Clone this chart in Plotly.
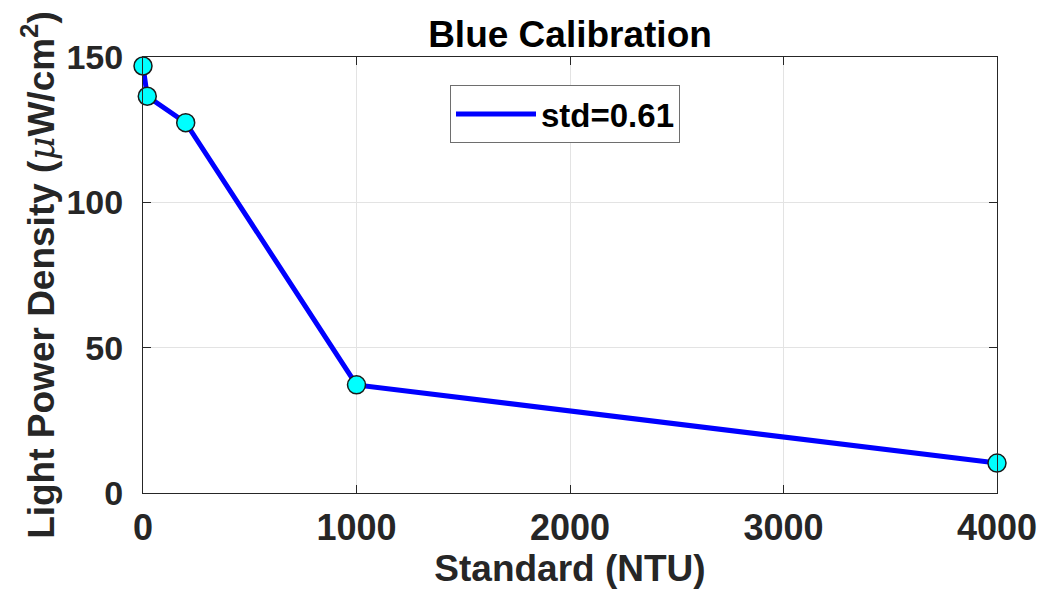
import plotly.graph_objects as go

# data
ntu = [0, 20, 200, 1000, 4000]
power = [146.9, 136.5, 127.4, 37.2, 10.3]
series_name = "std=0.61"
x_ticks = [0, 1000, 2000, 3000, 4000]
y_ticks = [0, 50, 100, 150]

FONT = "Liberation Sans, Arial, Helvetica, sans-serif"
AXC = "#262626"
L, R, T, B = 143, 997, 57, 493
W, H = 1039, 603
pw, ph = R - L, B - T

fig = go.Figure()
fig.add_trace(go.Scatter(
    x=ntu, y=power, mode="lines", name=series_name,
    line=dict(color="#0000FF", width=5), cliponaxis=False,
))
fig.add_trace(go.Scatter(
    x=ntu, y=power, mode="markers", showlegend=False,
    marker=dict(color="#00FFFF", size=18, line=dict(color="#1a1a1a", width=1.5)),
    cliponaxis=False,
))

axis_common = dict(
    showline=True, linecolor=AXC, linewidth=1, mirror="ticks",
    ticks="inside", ticklen=8, tickwidth=1, tickcolor=AXC,
    showgrid=True, gridcolor="#e3e3e3", gridwidth=1, zeroline=False,
)

mu = ('<span style="font-family:\'DejaVu Serif\',\'Liberation Serif\',serif;'
      'font-style:italic;font-weight:normal">μ</span>')

fig.update_layout(
    width=W, height=H,
    margin=dict(l=L, r=W - R, t=T, b=H - B, autoexpand=False),
    paper_bgcolor="white", plot_bgcolor="white",
    title=dict(text="<b>Blue Calibration</b>", x=(L + R) / 2 / W, xanchor="center",
               y=1 - 47 / H, yanchor="bottom",
               font=dict(family=FONT, size=37, color="black")),
    xaxis=dict(range=[0, 4000], tickvals=x_ticks, ticklabelstandoff=3,
               tickfont=dict(family=FONT, size=36, color=AXC, weight="bold"),
               title=dict(text="<b>Standard (NTU)</b>", standoff=1,
                          font=dict(family=FONT, size=37, color=AXC)),
               **axis_common),
    yaxis=dict(range=[0, 150], tickvals=y_ticks, ticklabelstandoff=12,
               tickfont=dict(family=FONT, size=34, color=AXC, weight="bold"),
               title=dict(text="<b>Light Power Density (" + mu + "W/cm<sup>2</sup>)</b>", standoff=0,
                          font=dict(family=FONT, size=37, color=AXC)),
               **axis_common),
    legend=dict(x=(450 - L) / pw, xanchor="left", y=(B - 85) / ph, yanchor="top",
                bgcolor="white", bordercolor="#6e6e6e", borderwidth=1,
                font=dict(family=FONT, size=33, color="black", weight="bold"),
                itemwidth=80),
    showlegend=True,
)

fig.write_html("out.html")
